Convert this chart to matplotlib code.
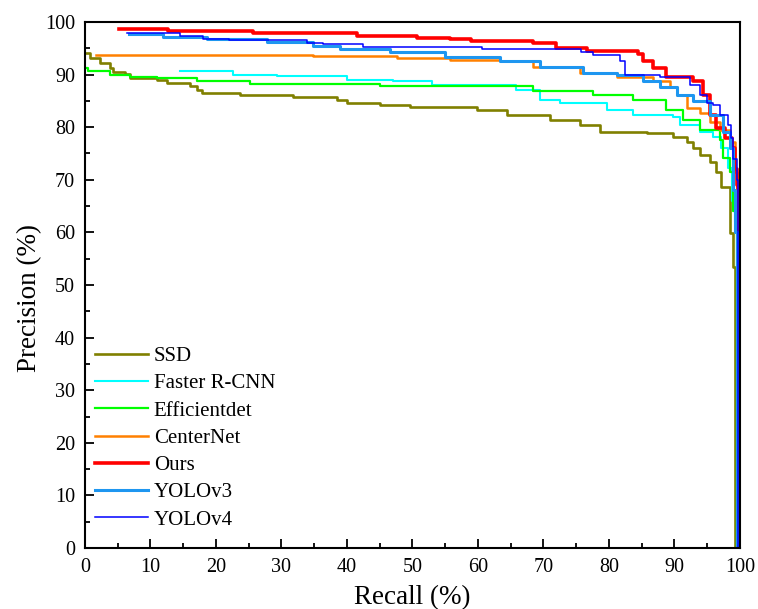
import matplotlib
matplotlib.use("Agg")
import matplotlib.pyplot as plt
from matplotlib.ticker import MultipleLocator

plt.rcParams['font.family'] = ['Liberation Serif', 'DejaVu Serif']

labels = ["SSD", "Faster R-CNN", "Efficientdet", "CenterNet", "Ours", "YOLOv3", "YOLOv4"]
colors = ["#808000", "#00FFFF", "#00FF00", "#FF8000", "#FF0000", "#1E96F0", "#0000FF"]
widths = [1.9, 1.5, 1.6, 1.8, 2.6, 2.2, 1.1]

ssd_r = [0, 0.8, 2.3, 3.8, 4.3, 6.1, 6.9, 11, 12.5, 16, 17.1, 17.9, 23.7, 31.8, 38.5, 40, 45, 49.6,
         59.8, 64.4, 71, 75.6, 78.6, 85.8, 89.8, 91.9, 92.8, 93.9, 95.4, 96.4, 97.2, 98.5, 99.0, 99.3]
ssd_p = [94.0, 93.1, 92.2, 91.2, 90.5, 90.1, 89.3, 88.9, 88.3, 87.9, 87.1, 86.4, 86.1, 85.8, 85.2, 84.5, 84.2, 83.9,
         83.3, 82.3, 81.4, 80.4, 79.1, 78.8, 78.2, 77.2, 76.0, 74.7, 73.4, 71.5, 68.6, 59.9, 53.4, 0]

frcnn_r = [14.5, 22.6, 29.3, 40, 47, 53, 65.9, 69.5, 72.5, 79.7, 83.7, 89.8, 90.8, 93.9, 95.9, 97.2, 98.2, 98.8, 99.2, 99.6]
frcnn_p = [90.6, 89.9, 89.7, 88.9, 88.7, 88.0, 87.1, 85.2, 84.5, 83.3, 82.3, 82.0, 80.4, 79.1, 78.2, 76.0, 72.2, 66.0, 62.0, 0]

eff_r = [0, 0.5, 3.8, 6.9, 11, 17.1, 25.2, 45, 55, 68.4, 77.6, 83.7, 88.8, 91.3, 93.9, 97.0, 97.4, 98.5, 99.0, 99.5]
eff_p = [91.2, 90.6, 89.9, 89.5, 89.3, 88.8, 88.2, 87.9, 87.8, 86.9, 86.1, 85.2, 83.3, 81.4, 79.5, 77.6, 74.1, 71.5, 64.0, 0]

cn_r = [1.7, 34.8, 47.6, 55.7, 63.4, 68.4, 75.6, 81.2, 86.7, 89.3, 90.4, 91.9, 93.9, 95.4, 97.0, 98.5, 99.3, 99.6, 99.7]
cn_p = [93.7, 93.5, 93.2, 92.8, 92.5, 91.5, 90.3, 89.6, 88.7, 87.7, 86.1, 83.7, 82.7, 81.0, 79.5, 77.2, 71.5, 40.0, 0]

ours_r = [5.2, 12.7, 25.6, 41.5, 50.7, 55.7, 59, 68.4, 72, 76.6, 84.4, 85.2, 86.7, 88.8, 92.8, 94.4, 95.4, 96.4,
          97.7, 98.8, 99.3, 99.6, 99.8]
ours_p = [98.6, 98.3, 97.9, 97.4, 97.0, 96.8, 96.4, 96.0, 95.0, 94.5, 93.9, 92.5, 91.2, 89.6, 88.7, 86.1, 82.3, 79.8,
          78.0, 76.0, 72.0, 69.0, 0]

y3_r = [6.7, 11.9, 18.6, 27.8, 34.8, 38.9, 46.6, 55, 63.4, 69.5, 76, 81.2, 85.2, 87.8, 90.4, 92.8, 95.4, 97.4,
        98.5, 99.0, 99.3, 99.6]
y3_p = [97.7, 97.2, 96.8, 96.2, 95.4, 94.8, 94.2, 93.4, 92.5, 91.5, 90.3, 89.9, 88.7, 87.7, 86.1, 84.9, 82.3, 79.1,
        76.0, 68.0, 60.0, 0]

y4_r = [6.5, 14.5, 18, 22, 33.9, 36.4, 42.5, 60.6, 75.8, 77.6, 81.7, 82.4, 87.8, 92.4, 93.9, 95.0, 95.9, 97.0,
        98.2, 98.6, 99.0, 99.5, 99.7]
y4_p = [97.8, 97.4, 96.8, 96.6, 96.0, 95.8, 95.2, 94.8, 94.2, 93.7, 92.5, 89.9, 89.6, 88.0, 86.1, 84.6, 84.2, 82.3,
        80.4, 78.0, 74.0, 70.0, 0]

series = [(ssd_r, ssd_p), (frcnn_r, frcnn_p), (eff_r, eff_p), (cn_r, cn_p),
          (ours_r, ours_p), (y3_r, y3_p), (y4_r, y4_p)]

fig = plt.figure(figsize=(7.58, 6.09), dpi=100)
ax = fig.add_axes([0.112, 0.100, 0.864, 0.864])

for (r, p), lab, c, w in zip(series, labels, colors, widths):
    ax.plot(r, p, drawstyle='steps-post', color=c, lw=w, label=lab)

ax.set_xlim(0, 100)
ax.set_ylim(0, 100)
ax.xaxis.set_major_locator(MultipleLocator(10))
ax.xaxis.set_minor_locator(MultipleLocator(5))
ax.yaxis.set_major_locator(MultipleLocator(10))
ax.yaxis.set_minor_locator(MultipleLocator(5))
ax.tick_params(which='both', direction='in', top=False, right=False, labelsize=14.5, width=1.3, pad=7)
ax.tick_params(which='major', length=6.5)
ax.tick_params(which='minor', length=3.5)
for s in ax.spines.values():
    s.set_linewidth(1.5)

ax.set_xlabel("Recall (%)", fontsize=19.5)
ax.set_ylabel("Precision (%)", fontsize=19.5)
ax.xaxis.set_label_coords(0.5, -0.071)
ax.yaxis.set_label_coords(-0.066, 0.475)

ax.legend(loc='lower left', bbox_to_anchor=(0.0, 0.015), frameon=False, fontsize=15, handlelength=2.55,
          handletextpad=0.25, labelspacing=0.37, borderaxespad=0.3, borderpad=0.2)

fig.savefig("out.png", dpi=100)
